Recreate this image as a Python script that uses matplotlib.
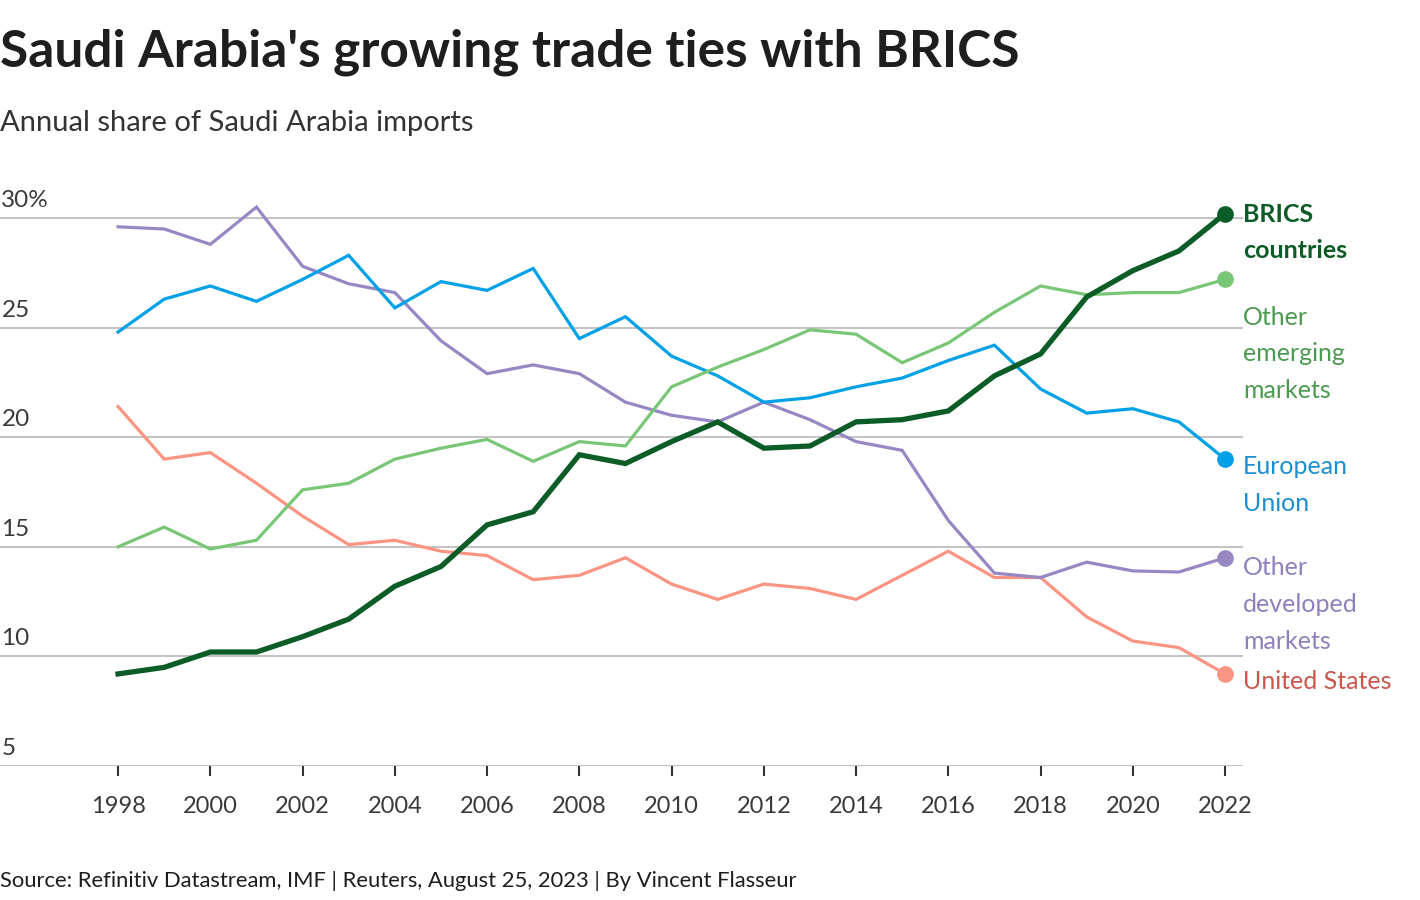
import matplotlib
matplotlib.use("Agg")
import matplotlib.pyplot as plt
import matplotlib.transforms as mtransforms

plt.rcParams['font.family'] = ['Lato', 'DejaVu Sans']

# ------------------------------------------------------------------
# data (share of Saudi Arabia imports, %)
# ------------------------------------------------------------------
years = list(range(1998, 2023))

brics = [9.2, 9.5, 10.2, 10.2, 10.9, 11.7, 13.2, 14.1, 16.0, 16.6, 19.2, 18.8, 19.8,
         20.7, 19.5, 19.6, 20.7, 20.8, 21.2, 22.8, 23.8, 26.4, 27.6, 28.5, 30.2]
other_emerging = [15.0, 15.9, 14.9, 15.3, 17.6, 17.9, 19.0, 19.5, 19.9, 18.9, 19.8, 19.6, 22.3,
                  23.2, 24.0, 24.9, 24.7, 23.4, 24.3, 25.7, 26.9, 26.5, 26.6, 26.6, 27.2]
eu = [24.8, 26.3, 26.9, 26.2, 27.2, 28.3, 25.9, 27.1, 26.7, 27.7, 24.5, 25.5, 23.7,
      22.8, 21.6, 21.8, 22.3, 22.7, 23.5, 24.2, 22.2, 21.1, 21.3, 20.7, 19.0]
other_developed = [29.6, 29.5, 28.8, 30.5, 27.8, 27.0, 26.6, 24.4, 22.9, 23.3, 22.9, 21.6, 21.0,
                   20.7, 21.6, 20.8, 19.8, 19.4, 16.2, 13.8, 13.6, 14.3, 13.9, 13.85, 14.5]
us = [21.4, 19.0, 19.3, 17.9, 16.4, 15.1, 15.3, 14.8, 14.6, 13.5, 13.7, 14.5, 13.3,
      12.6, 13.3, 13.1, 12.6, 13.7, 14.8, 13.6, 13.6, 11.8, 10.7, 10.4, 9.2]

series = [
    ("United States", us, "#fc9483", "#c9574c", "normal", 2.3),
    ("Other\ndeveloped\nmarkets", other_developed, "#9787c3", "#8f80bd", "normal", 2.3),
    ("European\nUnion", eu, "#00a1e6", "#1c8fd2", "normal", 2.3),
    ("Other\nemerging\nmarkets", other_emerging, "#79c677", "#4c9a50", "normal", 2.3),
    ("BRICS\ncountries", brics, "#0b5c26", "#0b5c26", "bold", 3.8),
]
# vertical offset of each label relative to its end point (points)
label_dy = {"BRICS\ncountries": 8, "Other\nemerging\nmarkets": -19,
            "European\nUnion": 3, "Other\ndeveloped\nmarkets": 1, "United States": 3}

yticks = [5, 10, 15, 20, 25, 30]
ytick_labels = ["5", "10", "15", "20", "25", "30%"]
xticks = list(range(1998, 2023, 2))

# ------------------------------------------------------------------
# figure
# ------------------------------------------------------------------
fig = plt.figure(figsize=(14.2, 9), dpi=100)
ax = fig.add_axes([0.0, 0.1489, 0.8754, 0.64])
ax.set_xlim(1995.44, 2022.39)
ax.set_ylim(5, 31.28)

for sp in ax.spines.values():
    sp.set_visible(False)

ax.set_yticks(yticks)
ax.set_yticklabels([])
ax.tick_params(axis='y', length=0)
ax.grid(axis='y', color='#c4c4c4', linewidth=1.5)
ax.set_axisbelow(True)

ax.set_xticks(xticks)
ax.set_xticklabels([str(x) for x in xticks], fontsize=17, color='#3a3a3a')
ax.tick_params(axis='x', length=7.5, width=1.5, color='#333333', pad=14)

trans = mtransforms.blended_transform_factory(ax.transAxes, ax.transData)
for v, lab in zip(yticks, ytick_labels):
    ax.annotate(lab, xy=(0.0, v), xycoords=trans, xytext=(1, 5), textcoords='offset points',
                ha='left', va='bottom', fontsize=17.5, color='#3a3a3a')

for name, vals, col, tcol, weight, lw in series:
    ax.plot(years, vals, color=col, linewidth=lw, solid_joinstyle='miter', zorder=3)
    ax.plot(years[-1], vals[-1], 'o', color=col, markersize=11, zorder=4, clip_on=False)
    ax.annotate(name, xy=(years[-1], vals[-1]), xytext=(13, label_dy[name]),
                textcoords='offset points', ha='left', va='top', fontsize=18,
                fontweight=weight, color=tcol, linespacing=1.72, annotation_clip=False)

fig.text(0.0, 1 - 52 / 900, "Saudi Arabia's growing trade ties with BRICS", fontsize=37,
         fontweight='bold', color='#1e1e1e', ha='left', va='center')
fig.text(0.0, 1 - 123 / 900, "Annual share of Saudi Arabia imports", fontsize=21,
         color='#333333', ha='left', va='center')
fig.text(0.0, 1 - 881 / 900, "Source: Refinitiv Datastream, IMF | Reuters, August 25, 2023 | By Vincent Flasseur",
         fontsize=15.8, color='#1e1e1e', ha='left', va='center')

fig.savefig("out.png", dpi=100)
